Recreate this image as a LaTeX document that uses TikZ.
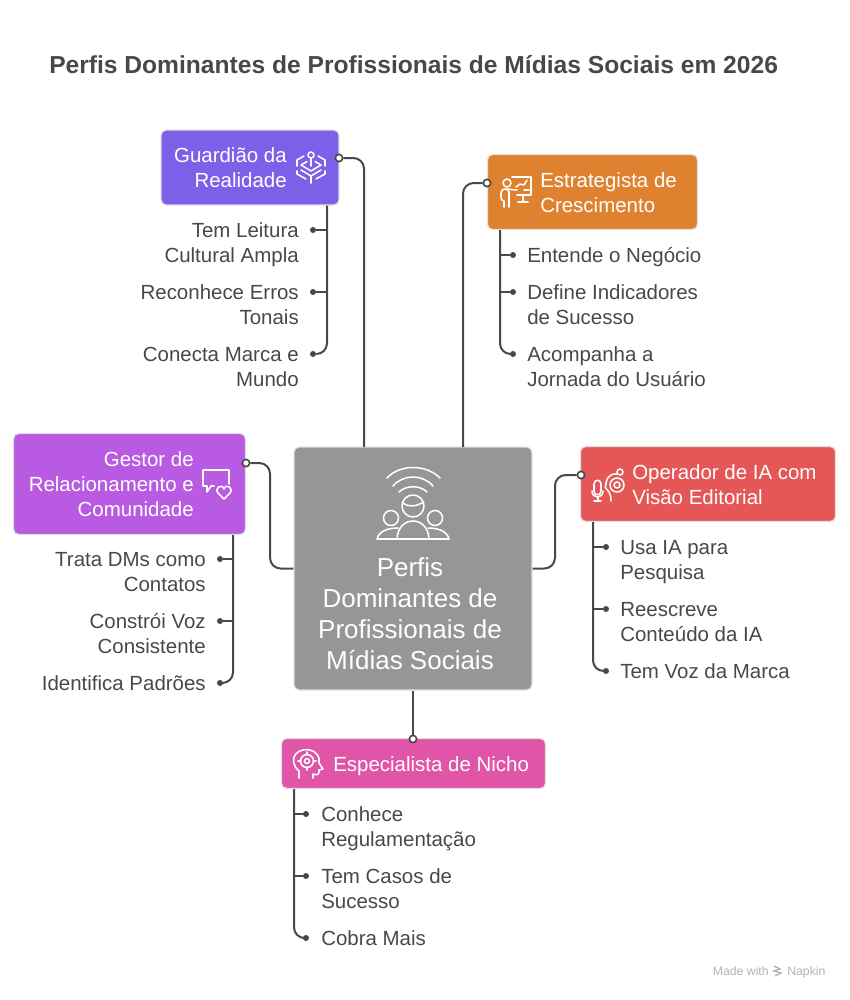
\documentclass[tikz,border=0pt]{standalone}
\usepackage{fontspec}
\setmainfont{Liberation Sans}
\definecolor{inkdark}{HTML}{484848}
\definecolor{guardfill}{HTML}{7B61E8}
\definecolor{stratfill}{HTML}{DF8230}
\definecolor{gestfill}{HTML}{B85AE2}
\definecolor{operfill}{HTML}{E55757}
\definecolor{espfill}{HTML}{E055A8}
\definecolor{mainfill}{HTML}{969696}
\begin{document}
\begin{tikzpicture}[x=.75pt,y=-.75pt,
	box/.style n args = {3}{rectangle,draw=black!12,line width=.8pt,fill=#1,rounded corners=4pt,minimum width=#2*.75pt,minimum height=#3*.75pt,inner sep=0pt},
	boxtext/.style = {text=white,font=\fontsize{15.35}{18.75}\selectfont,inner sep=0pt},
	leaf/.style = {text=inkdark,font=\fontsize{15.35}{18.75}\selectfont,inner sep=0pt},
	dot node/.style = {circle,fill=inkdark,inner sep=0pt,minimum size=4.5pt},
	port/.style = {circle,draw=inkdark,fill=white,line width=1.2pt,inner sep=0pt,minimum size=5.5pt},
	link/.style = {draw=inkdark,line width=1.5pt,rounded corners=8pt},
	icon/.style = {draw=white,line width=1.15pt,line join=round,line cap=round}]
	\useasboundingbox (0,0) rectangle (850,1000);
	\node[text=inkdark,font=\fontsize{18.45}{23}\bfseries\selectfont,inner sep=0pt,anchor=west] (title) at (49,65) {Perfis Dominantes de Profissionais de Mídias Sociais em 2026};

	\node[box={mainfill}{238}{243}] (central) at (413,568.5) {};
	\node[box={guardfill}{178}{75}] (guard) at (250,167.5) {};
	\node[box={stratfill}{210}{75}] (strat) at (592.5,192) {};
	\node[box={gestfill}{232}{101}] (gest) at (129.5,484) {};
	\node[box={operfill}{255}{75}] (oper) at (708,484) {};
	\node[box={espfill}{264}{50}] (esp) at (413.5,763.5) {};

	\node[text=white,font=\fontsize{19.5}{23.25}\selectfont,align=center,inner sep=0pt] (maintext) at (410,613.5) {Perfis\\Dominantes de\\Profissionais de\\Mídias Sociais};
	\node[boxtext,align=right,anchor=base east] (guardtext) at (287,187) {Guardião da\\Realidade};
	\node[boxtext,align=left,anchor=base west] (strattext) at (540,212) {Estrategista de\\Crescimento};
	\node[boxtext,align=right,anchor=base east] (gesttext) at (194,516) {Gestor de\\Relacionamento e\\Comunidade};
	\node[boxtext,align=left,anchor=base west] (opertext) at (632,504) {Operador de IA com\\Visão Editorial};
	\node[boxtext,anchor=base west] (esptext) at (333,771) {Especialista de Nicho};

	\node[port] (gport) at (339,158) {};
	\node[port] (sport) at (487,183) {};
	\node[port] (hport) at (246,463) {};
	\node[port] (oport) at (581,475) {};
	\node[port] (eport) at (413,739) {};

	\coordinate (gin) at (364,447);
	\coordinate (sin) at (463,447);
	\coordinate (hin) at (270,568.5);
	\coordinate (oin) at (555,568.5);

	\draw[link] (gport.east) -| (gin);
	\draw[link] (sport.west) -| (sin);
	\draw[link] (hport.east) -| (hin) -- (central.west);
	\draw[link] (central.east) -- (oin) |- (oport.west);
	\draw[link] (central.south) -- (eport.north);

	\node[dot node] (g1) at (313,230) {};
	\node[dot node] (g2) at (313,292) {};
	\node[dot node] (g3) at (313,354) {};
	\node[leaf,align=right,anchor=base east] (gl1) at (299,262) {Tem Leitura\\Cultural Ampla};
	\node[leaf,align=right,anchor=base east] (gl2) at (299,324) {Reconhece Erros\\Tonais};
	\node[leaf,align=right,anchor=base east] (gl3) at (299,386) {Conecta Marca e\\Mundo};
	\coordinate (gtop) at (327,205.5);
	\draw[link] (gtop) |- (g3.east);
	\draw[link] (g1.east) -- (g1 -| gtop);
	\draw[link] (g2.east) -- (g2 -| gtop);

	\node[dot node] (s1) at (513,255) {};
	\node[dot node] (s2) at (513,292) {};
	\node[dot node] (s3) at (513,354) {};
	\node[leaf,anchor=base west] (sl1) at (527,262) {Entende o Negócio};
	\node[leaf,align=left,anchor=base west] (sl2) at (527,324) {Define Indicadores\\de Sucesso};
	\node[leaf,align=left,anchor=base west] (sl3) at (527,386) {Acompanha a\\Jornada do Usuário};
	\coordinate (stop) at (500,230);
	\draw[link] (stop) |- (s3.west);
	\draw[link] (s1.west) -- (s1 -| stop);
	\draw[link] (s2.west) -- (s2 -| stop);

	\node[dot node] (h1) at (220,559) {};
	\node[dot node] (h2) at (220,621) {};
	\node[dot node] (h3) at (220,683) {};
	\node[leaf,align=right,anchor=base east] (hl1) at (206,591) {Trata DMs como\\Contatos};
	\node[leaf,align=right,anchor=base east] (hl2) at (206,653) {Constrói Voz\\Consistente};
	\node[leaf,anchor=base east] (hl3) at (206,690) {Identifica Padrões};
	\coordinate (htop) at (233,535);
	\draw[link] (htop) |- (h3.east);
	\draw[link] (h1.east) -- (h1 -| htop);
	\draw[link] (h2.east) -- (h2 -| htop);

	\node[dot node] (o1) at (606,547) {};
	\node[dot node] (o2) at (606,609) {};
	\node[dot node] (o3) at (606,671) {};
	\node[leaf,align=left,anchor=base west] (ol1) at (620,579) {Usa IA para\\Pesquisa};
	\node[leaf,align=left,anchor=base west] (ol2) at (620,641) {Reescreve\\Conteúdo da IA};
	\node[leaf,anchor=base west] (ol3) at (620,678) {Tem Voz da Marca};
	\coordinate (otop) at (593,522);
	\draw[link] (otop) |- (o3.west);
	\draw[link] (o1.west) -- (o1 -| otop);
	\draw[link] (o2.west) -- (o2 -| otop);

	\node[dot node] (e1) at (306,814) {};
	\node[dot node] (e2) at (306,876) {};
	\node[dot node] (e3) at (306,938) {};
	\node[leaf,align=left,anchor=base west] (el1) at (321,846) {Conhece\\Regulamentação};
	\node[leaf,align=left,anchor=base west] (el2) at (321,908) {Tem Casos de\\Sucesso};
	\node[leaf,anchor=base west] (el3) at (321,945) {Cobra Mais};
	\coordinate (etop) at (294,789);
	\draw[link] (etop) |- (e3.west);
	\draw[link] (e1.west) -- (e1 -| etop);
	\draw[link] (e2.west) -- (e2 -| etop);

	\draw[icon] (387,478) .. controls (400,464) and (426,464) .. (440,478);
	\draw[icon] (393,486) .. controls (403,474) and (423,474) .. (433,486);
	\draw[icon] (399,492) .. controls (406,485) and (420,485) .. (427,492);
	\draw[icon] (413,506) circle[radius=11];
	\draw[icon] (403,503) .. controls (410,508) and (416,506) .. (424,502);
	\draw[icon] (391,518) circle[radius=7.5];
	\draw[icon] (435,518) circle[radius=7.5];
	\draw[icon] (377,539) -- (449,539);
	\draw[icon] (397,539) .. controls (398,515) and (428,515) .. (429,539);
	\draw[icon] (377,539) .. controls (379,531) and (388,528) .. (398,528);
	\draw[icon] (449,539) .. controls (447,531) and (438,528) .. (428,528);

	\draw[icon] (311,155) circle[radius=3];
	\draw[icon] (311,158) -- (311,166);
	\draw[icon] (301,165) -- (307,161.5);
	\draw[icon] (315,161.5) -- (321,165);
	\draw[icon] (301,165) -- (311,171) -- (321,165);
	\draw[icon] (301,170) -- (311,176) -- (321,170);
	\draw[icon] (304,156) -- (297,160) -- (297,166);
	\draw[icon] (318,156) -- (325,160) -- (325,166);
	\draw[icon] (297,171) -- (297,174) -- (306,179);
	\draw[icon] (325,171) -- (325,174) -- (316,179);
	\draw[icon] (311,176) -- (311,183);

	\draw[icon] (507,183) circle[radius=4];
	\draw[icon] (504,207) -- (504,201) .. controls (501,201) and (501,199) .. (501,196) -- (501,193) .. controls (501,190) and (503,189) .. (507,189) .. controls (510,189) and (512,190) .. (517,190);
	\draw[icon] (509,207) -- (509,192) -- (507,189);
	\draw[icon] (512,177) -- (531,177) -- (531,195) -- (517,195);
	\draw[icon] (523,195) -- (523,202);
	\draw[icon] (518,202) -- (528,202);
	\draw[icon] (516,187) -- (520,184) -- (524,185) -- (527,180);
	\draw[icon] (524,190) -- (529,190);

	\draw[icon] (594,484) .. controls (594,479) and (601,479) .. (601,484) -- (601,491) .. controls (601,496) and (594,496) .. (594,491) -- cycle;
	\draw[icon] (592,491) .. controls (592,499) and (603,499) .. (603,491);
	\draw[icon] (598,497) -- (598,501);
	\draw[icon] (594,501) -- (601,501);
	\draw[icon] (617,474) .. controls (608,473) and (606,481) .. (606,484) .. controls (604,488) and (607,489) .. (609,492) .. controls (611,495) and (611,498) .. (611,501);
	\draw[icon] (620,472) circle[radius=3];
	\draw[icon] (617,485) circle[radius=7];
	\draw[icon] (617,485) circle[radius=3];

	\draw[icon] (214,486) -- (211,486) -- (207,492) -- (207,486) -- (203,486) -- (203,470) -- (229,470) -- (229,484);
	\draw[icon] (224,499) -- (218,493) .. controls (214,488) and (222,483) .. (224,489) .. controls (226,483) and (234,488) .. (230,493) -- cycle;

	\draw[icon] (299,778) -- (299,771) .. controls (293,766) and (293,760) .. (294,757) .. controls (297,748) and (315,746) .. (319,758) -- (319,763) -- (323,769) -- (319,770) -- (319,772) .. controls (319,775) and (316,775) .. (313,774) -- (313,778);
	\draw[icon] (307,761) circle[radius=6.5];
	\draw[icon] (307,761) circle[radius=2.5];
	\draw[icon] (307,752) -- (307,755);
	\draw[icon] (307,767) -- (307,770);
	\draw[icon] (298,761) -- (301,761);
	\draw[icon] (313,761) -- (316,761);

	\node[text=black!30,font=\fontsize{9.2}{10}\selectfont,inner sep=0pt,anchor=base east] (madewith) at (769,975) {Made with};
	\node[text=black!30,font=\fontsize{9.2}{10}\selectfont,inner sep=0pt,anchor=base west] (napkin) at (787,975) {Napkin};
	\draw[black!30,line width=1pt] (774,966) -- (780,969) -- (774,971) -- (781,973) -- (775,976);
\end{tikzpicture}
\end{document}
